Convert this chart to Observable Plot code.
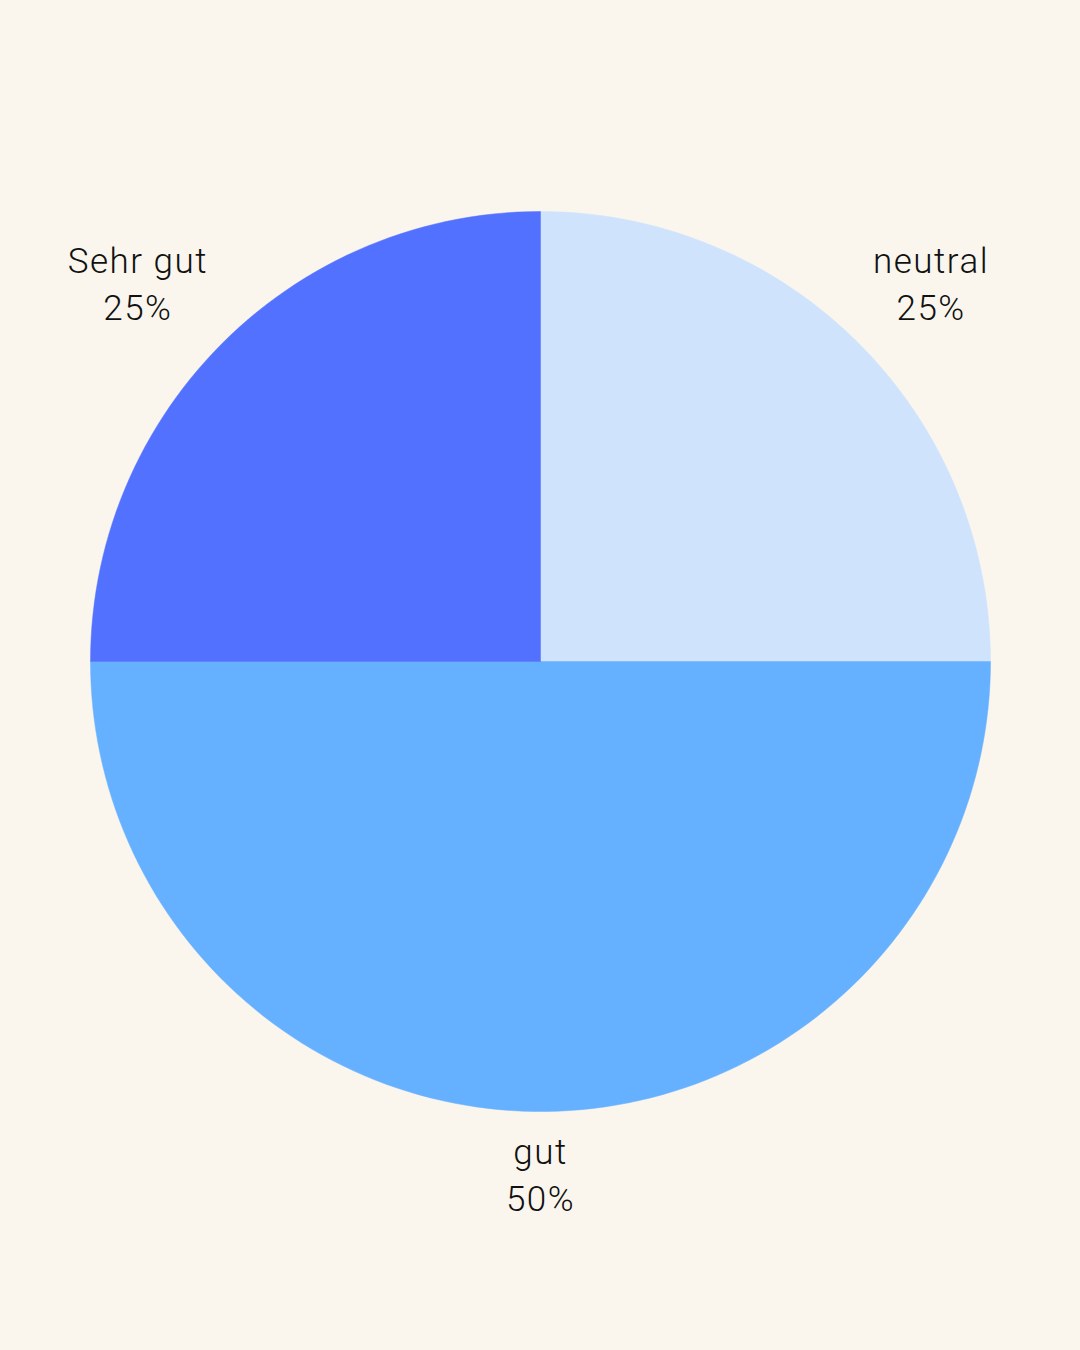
<!DOCTYPE html>
<html>
<head>
<meta charset="utf-8">
<script src="https://cdn.jsdelivr.net/npm/d3@7"></script>
<script src="https://cdn.jsdelivr.net/npm/@observablehq/plot@0.6"></script>
<style>
  html, body { margin: 0; padding: 0; background: #FAF6ED; }
  #chart svg { display: block; }
  #chart g[aria-label="text"] text { letter-spacing: 1.5px; }
</style>
</head>
<body>
<div id="chart"></div>
<script>
// Data
const categories = ["neutral", "gut", "Sehr gut"];
const values = [25, 50, 25];
const colors = ["#CFE3FD", "#65B0FF", "#5271FF"];

// Build pie arcs from the values
const pie = d3.pie().sort(null).value(d => d.value);
const rows = categories.map((c, i) => ({category: c, value: values[i]}));
const arcs = pie(rows);
const total = d3.sum(values);

const polyPoints = [];
const steps = 240;
arcs.forEach(a => {
  const c = a.data.category;
  polyPoints.push({category: c, x: 0, y: 0});
  const n = Math.max(2, Math.ceil(steps * (a.endAngle - a.startAngle) / (2 * Math.PI)));
  for (let k = 0; k <= n; k++) {
    const t = a.startAngle + (a.endAngle - a.startAngle) * k / n;
    polyPoints.push({category: c, x: Math.sin(t), y: Math.cos(t)});
  }
  polyPoints.push({category: c, x: 0, y: 0});
});

// label anchor just outside the rim, along each slice's bisector
const labelR = 1.045;
const labels = arcs.map(a => {
  const m = (a.startAngle + a.endAngle) / 2;
  return {
    category: a.data.category,
    ux: Math.sin(m),
    uy: Math.cos(m),
    x: labelR * Math.sin(m),
    y: labelR * Math.cos(m),
    text: `${a.data.category}\n${Math.round(a.data.value / total * 100)}%`
  };
});

const chart = Plot.plot({
  width: 1080,
  height: 1350,
  marginLeft: 90,
  marginRight: 90,
  marginTop: 211,
  marginBottom: 239,
  style: {background: "#FAF6ED", fontFamily: "Roboto, 'Liberation Sans', sans-serif"},
  x: {domain: [-1, 1], axis: null},
  y: {domain: [-1, 1], axis: null},
  color: {domain: categories, range: colors},
  marks: [
    Plot.line(polyPoints, {x: "x", y: "y", z: "category", fill: "category", stroke: "category", strokeWidth: 0.5, curve: "linear"}),
    Plot.text(labels, {x: "x", y: "y", text: "text", fontSize: 35, fontWeight: 300, lineHeight: 1.35, fill: "#111", textAnchor: "middle"})
  ]
});
document.getElementById("chart").appendChild(chart);

// place each label block so its nearest corner sits on the anchor point
const xs = chart.scale("x"), ys = chart.scale("y");
const texts = chart.querySelectorAll('g[aria-label="text"] text');
texts.forEach((t, i) => {
  const L = labels[i];
  const ax = xs.apply(L.x), ay = ys.apply(L.y);
  const ux = L.ux, uy = -L.uy;
  const b = t.getBBox();
  const tx = ux > 0.01 ? ax - b.x : ux < -0.01 ? ax - (b.x + b.width) : ax - (b.x + b.width / 2);
  const ty = uy > 0.01 ? ay - b.y : uy < -0.01 ? ay - (b.y + b.height) : ay - (b.y + b.height / 2);
  t.setAttribute("transform", `translate(${tx},${ty})`);
});
</script>
</body>
</html>
